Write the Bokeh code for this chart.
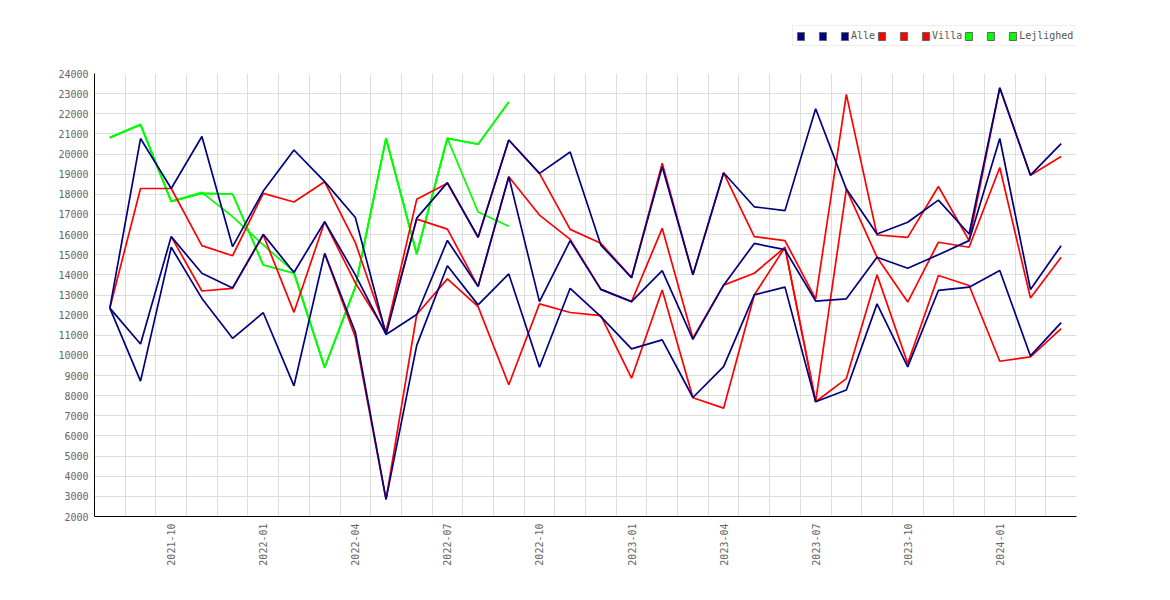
import math
from bokeh.plotting import figure
from bokeh.layouts import column
from bokeh.models import FixedTicker, Legend, LegendItem
from bokeh.embed import file_html
from bokeh.resources import INLINE
import numpy as np

months = ["2021-08", "2021-09", "2021-10", "2021-11", "2021-12",
          "2022-01", "2022-02", "2022-03", "2022-04", "2022-05", "2022-06",
          "2022-07", "2022-08", "2022-09", "2022-10", "2022-11", "2022-12",
          "2023-01", "2023-02", "2023-03", "2023-04", "2023-05", "2023-06",
          "2023-07", "2023-08", "2023-09", "2023-10", "2023-11", "2023-12",
          "2024-01", "2024-02", "2024-03"]
tick_months = ["2021-10", "2022-01", "2022-04", "2022-07", "2022-10",
               "2023-01", "2023-04", "2023-07", "2023-10", "2024-01"]
y_ticks = list(range(2000, 24001, 1000))

alle_a = [12350, 20770, 18290, 20870, 15400, 18160, 20200, 18630, 16850, 11040, 16815,
          18580, 15870, 20700, 19040, 20100, 15480, 13860, 19370, 14000, 19070, 17380,
          17190, 22250, 18260, 16030, 16610, 17710, 16030, 23290, 18950, 20520]
alle_b = [12350, 10570, 15900, 14080, 13350, 16010, 14120, 16640, 14000, 11040, 12030,
          15710, 13420, 18875, 12670, 15700, 13280, 12670, 14210, 10800, 13490, 15560,
          15250, 12700, 12810, 14875, 14330, 15000, 15700, 20770, 13275, 15450]
alle_c = [12350, 8720, 15370, 12830, 10850, 12120, 8490, 15070, 11150, 2850, 10500,
          14450, 12510, 14045, 9414, 13334, 11928, 10324, 10770, 7909, 9447, 13003,
          13390, 7700, 8280, 12560, 9430, 13225, 13390, 14215, 9975, 11625]

villa_a = [12350, 18290, 18290, 15450, 14950, 18050, 17620, 18620, 15600, 11160, 17750,
           18550, 15870, 20700, 19040, 16260, 15570, 13860, 19540, 14000, 19070, 15900,
           15700, 12810, 22960, 15980, 15860, 18390, 15700, 23290, 18950, 19875]
villa_b = [None, None, 15900, 13200, 13330, 15980, 12140, 16640, 13600, 11160, 16770,
           16270, 13420, 18875, 16970, 15765, 13280, 12670, 16310, 10850, 13490, 14080,
           15370, 7700, 18260, 14875, 12650, 15620, 15370, 19330, 12850, 14875]
villa_c = [None, None, None, None, None, None, None, 15070, 10900, 2850, 12030,
           13800, 12420, 8540, 12560, 12130, 11980, 8870, 13250, 7900, 7380, 13000,
           15370, 7700, 8850, 14000, 9600, 13970, 13470, 9710, 9925, 11330]

lejl_a = [20815, 21460, 17650, 18050, 18015, 14490, 14080, 9400, 13400, 20780, 15040,
          20780, 20490, 22580, None, None, None, None, None, None, None, None,
          None, None, None, None, None, None, None, None, None, None]
lejl_b = [20815, 21460, 17650, 18098, 16890, 15485, 14160, 9400, 13400, 20780, 15040,
          20780, 17120, 16410, None, None, None, None, None, None, None, None,
          None, None, None, None, None, None, None, None, None, None]
lejl_c = [20815, 21460, 17650, 18050, 18015, 14490, 14080, 9400, 13400, 20780, 15040,
          20780, 20490, 22580, None, None, None, None, None, None, None, None,
          None, None, None, None, None, None, None, None, None, None]

NAVY = "#000080"
RED = "#ff0000"
GREEN = "#00ff00"
FONT = "DejaVu Sans Mono"

W = 1160
LEG_H = 60
BL, BR = 94, 84

x = np.arange(len(months))

p = figure(width=W, height=592 - LEG_H, output_backend="svg", toolbar_location=None,
           x_range=(-0.5, len(months) - 0.5), y_range=(2000, 24000),
           min_border_left=BL, min_border_right=BR, min_border_top=73 - LEG_H,
           min_border_bottom=76)
p.outline_line_color = None
p.background_fill_color = "white"
p.border_fill_color = "white"

# grids
p.xgrid.ticker = FixedTicker(ticks=[i + 0.5 for i in range(len(months) - 1)])
p.ygrid.ticker = FixedTicker(ticks=y_ticks)
p.xgrid.grid_line_color = "#dddddd"
p.ygrid.grid_line_color = "#dddddd"

# axes
tick_idx = [months.index(m) for m in tick_months]
p.xaxis.ticker = FixedTicker(ticks=tick_idx)
p.xaxis.major_label_overrides = {int(i): m for i, m in zip(tick_idx, tick_months)}
p.xaxis.major_label_orientation = math.pi / 2
p.yaxis.ticker = FixedTicker(ticks=y_ticks)
for ax in (p.xaxis, p.yaxis):
    ax.axis_line_color = "black"
    ax.axis_line_width = 1
    ax.major_tick_in = 0
    ax.major_tick_out = 0
    ax.minor_tick_in = 0
    ax.minor_tick_out = 0
    ax.major_label_text_font = FONT
    ax.major_label_text_font_size = "10px"
    ax.major_label_text_color = "#666666"
p.yaxis.major_label_standoff = 6
p.xaxis.major_label_standoff = 7

def arr(v):
    return np.array([np.nan if a is None else a for a in v], dtype=float)

LW = 1.7
for ys in (lejl_a, lejl_b, lejl_c):
    p.line(x, arr(ys), line_color=GREEN, line_width=LW)
for ys in (villa_a, villa_b, villa_c):
    p.line(x, arr(ys), line_color=RED, line_width=LW)
for ys in (alle_a, alle_b, alle_c):
    p.line(x, arr(ys), line_color=NAVY, line_width=LW)

# legend strip above the chart (its frame is aligned with the chart's frame)
lf = figure(width=W, height=LEG_H, output_backend="svg", toolbar_location=None,
            x_range=(0, 1), y_range=(0, 1),
            min_border_left=BL, min_border_right=BR, min_border_top=0,
            min_border_bottom=0)
lf.axis.visible = False
lf.grid.visible = False
lf.outline_line_color = None
lf.background_fill_color = "white"
lf.border_fill_color = "white"

items = []
for color, name in ((NAVY, "Alle"), (RED, "Villa"), (GREEN, "Lejlighed")):
    for lab in (" ", " ", name):
        # swatch renderer kept outside the visible range; used only by the legend
        r = lf.quad(left=[5], right=[6], top=[6], bottom=[5], fill_color=color,
                    line_color="#666666", line_width=1)
        items.append(LegendItem(label=lab, renderers=[r]))

legend = Legend(items=items, location=(792 - BL, LEG_H - 46), orientation="horizontal",
                padding=3, spacing=2, margin=0,
                glyph_width=9, glyph_height=10, label_standoff=2,
                label_height=13, label_width=9,
                label_text_font=FONT, label_text_font_size="10px",
                label_text_color="#555555",
                border_line_color="#dddddd", border_line_width=1,
                background_fill_color="white", background_fill_alpha=1.0)
lf.add_layout(legend)

layout = column(lf, p, spacing=0)
open("out.html", "w").write(file_html(layout, INLINE))
